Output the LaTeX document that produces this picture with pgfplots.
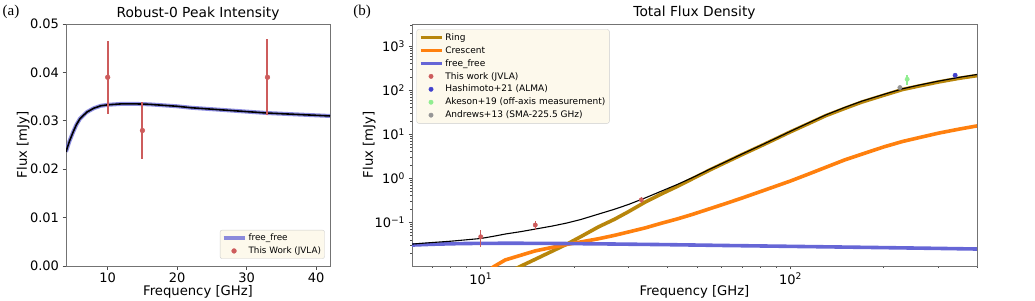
\documentclass[border=0pt]{standalone}
\usepackage{fontspec}
\setmainfont{DejaVu Sans}
\newfontfamily\panelfont{Liberation Serif}
\usepackage{pgfplots}
\pgfplotsset{compat=1.18}
\definecolor{ffblue}{RGB}{102,102,214}
\definecolor{ringc}{RGB}{184,134,11}
\definecolor{cresc}{RGB}{255,128,14}
\definecolor{ired}{RGB}{205,92,92}
\definecolor{hashi}{RGB}{65,65,205}
\definecolor{akes}{RGB}{144,238,144}
\definecolor{andr}{RGB}{150,150,150}
\definecolor{legbg}{RGB}{253,249,236}
\pgfplotsset{
  mpl/.style={
    scale only axis,
    tick align=outside,
    xtick pos=bottom, ytick pos=left,
    major tick length=3.5pt, minor tick length=2pt,
    every tick/.style={black!70, line width=0.7pt},
    axis line style={black!55, line width=0.8pt},
    tick label style={font=\fontsize{13}{13}\selectfont},
    label style={font=\fontsize{13.2}{13.2}\selectfont},
    title style={font=\fontsize{13.8}{14}\selectfont, at={(0.5,1)}, anchor=base, yshift=1pt},
    xlabel style={at={(0.5,0)}, anchor=base, yshift=-29pt},
    /pgf/number format/assume math mode=true,
    legend cell align=left,
  },
  lineleg/.style={legend image code/.code={\draw[##1] (0pt,0pt) -- (21pt,0pt);}},
  dotleg/.style={legend image code/.code={\draw[##1, only marks] plot coordinates {(10.5pt,0pt)};}},
}
\begin{document}
\begin{tikzpicture}
\useasboundingbox (0pt,0pt) rectangle (1035pt,300pt);
\node[font=\panelfont\fontsize{15}{15}\selectfont] at (11pt,288pt) {(a)};
\node[font=\panelfont\fontsize{15}{15}\selectfont] at (362pt,288pt) {(b)};
% ---------------- left panel
\begin{axis}[mpl,
  at={(66pt,34pt)}, anchor=south west,
  width=264pt, height=242pt,
  xmin=4, xmax=42, ymin=0, ymax=0.05,
  xtick={10,20,30,40},
  ytick={0,0.01,0.02,0.03,0.04,0.05},
  scaled y ticks=false,
  yticklabel style={/pgf/number format/fixed, /pgf/number format/fixed zerofill, /pgf/number format/precision=2},
  title={Robust-0 Peak Intensity},
  xlabel={Frequency [GHz]}, ylabel={Flux [mJy]},
  ylabel style={at={(axis description cs:-0.162,0.5)}, anchor=center},
  legend style={at={(0.98,0.03)}, anchor=south east, fill=legbg, draw=black!20, rounded corners=2pt,
    font=\fontsize{8.8}{10}\selectfont, inner sep=1.5pt, row sep=1pt},
]
\addplot[ffblue, opacity=0.75, line width=4pt, lineleg] coordinates {
(4,0.0236)(4.5,0.0258)(5,0.0276)(5.5,0.0292)(6,0.0304)(7,0.0318)(8,0.0326)(9,0.0331)(10,0.0333)(11,0.0334)(12,0.0335)(14,0.0335)(16,0.0334)(18,0.0332)(20,0.0330)(22,0.0327)(25,0.0324)(28,0.0321)(30,0.0319)(33,0.0316)(36,0.0314)(39,0.0312)(42,0.0310)};
\addlegendentry{free\_free}
\addplot[black, line width=1.6pt, forget plot] coordinates {
(4,0.0236)(4.5,0.0258)(5,0.0276)(5.5,0.0292)(6,0.0304)(7,0.0318)(8,0.0326)(9,0.0331)(10,0.0333)(11,0.0334)(12,0.0335)(14,0.0335)(16,0.0334)(18,0.0332)(20,0.0330)(22,0.0327)(25,0.0324)(28,0.0321)(30,0.0319)(33,0.0316)(36,0.0314)(39,0.0312)(42,0.0310)};
\addplot[ired, only marks, mark=*, mark size=2.4pt, dotleg,
  error bars/y dir=both, error bars/y explicit, error bars/error mark=none,
  error bars/error bar style={draw=ired, line width=2pt, solid}]
  coordinates {(10,0.039) +- (0,0.0075) (15,0.028) +- (0,0.0058) (33,0.039) +- (0,0.0079)};
\addlegendentry{This Work (JVLA)}
\end{axis}
% ---------------- right panel
\begin{axis}[mpl,
  at={(412pt,34pt)}, anchor=south west,
  width=565pt, height=242pt,
  xmode=log, ymode=log,
  xmin=6, xmax=400, ymin=0.0102, ymax=3200,
  xtick={10,100}, xticklabels={10\textsuperscript{1},10\textsuperscript{2}},
  minor xtick={7,8,9,20,30,40,50,60,70,80,90,200,300,400},
  ytick={0.1,1,10,100,1000},
  yticklabels={10\textsuperscript{−1},10\textsuperscript{0},10\textsuperscript{1},10\textsuperscript{2},10\textsuperscript{3}},
  minor ytick={0.02,0.03,0.04,0.05,0.06,0.07,0.08,0.09,0.2,0.3,0.4,0.5,0.6,0.7,0.8,0.9,2,3,4,5,6,7,8,9,20,30,40,50,60,70,80,90,200,300,400,500,600,700,800,900,2000,3000},
  title={Total Flux Density},
  xlabel={Frequency [GHz]}, ylabel={Flux [mJy]},
  ylabel style={at={(axis description cs:-0.0756,0.5)}, anchor=center},
  legend style={at={(0.008,0.978)}, anchor=north west, fill=legbg, draw=black!20, rounded corners=2pt,
    font=\fontsize{9}{10}\selectfont, inner sep=2pt, row sep=0.6pt},
]
\addplot[ringc, line width=3.6pt, lineleg] coordinates {
(12,0.0068)(13.5,0.0102)(15,0.0145)(17,0.0221)(19,0.0322)(21,0.047)(24,0.079)(27,0.117)(30,0.175)(34,0.29)(38,0.43)(43,0.65)(48,0.96)(55,1.56)(62,2.33)(70,3.5)(80,5.4)(90,8.0)(100,11.4)(115,17.8)(130,26.5)(150,39)(170,54)(200,77)(230,104)(260,125)(300,154)(350,187)(400,215)};
\addlegendentry{Ring}
\addplot[cresc, line width=3.6pt, lineleg] coordinates {
(10.5,0.0075)(11,0.0098)(12,0.014)(13.5,0.018)(15,0.0225)(17,0.027)(19,0.0316)(21,0.0358)(24,0.0424)(27,0.0506)(30,0.0605)(34,0.075)(38,0.094)(43,0.119)(48,0.150)(55,0.205)(62,0.27)(70,0.36)(80,0.50)(90,0.67)(100,0.87)(115,1.27)(130,1.78)(150,2.64)(170,3.54)(200,5.17)(230,6.87)(260,8.4)(300,10.6)(350,13.1)(400,15.5)};
\addlegendentry{Crescent}
\addplot[ffblue, line width=3.6pt, lineleg] coordinates {
(6,0.0305)(7,0.0318)(8,0.0326)(9,0.0331)(10,0.0333)(12,0.0335)(15,0.0334)(19,0.0330)(24,0.0325)(30,0.0319)(38,0.0313)(48,0.0306)(62,0.0298)(80,0.0291)(100,0.0285)(130,0.0278)(170,0.0271)(230,0.0263)(300,0.0256)(400,0.0248)};
\addlegendentry{free\_free}
\addplot[black, line width=1.1pt, forget plot] coordinates {
(6,0.0321)(7,0.0349)(8,0.0373)(9,0.0402)(10,0.0430)(11,0.0483)(12,0.0543)(13.5,0.0617)(15,0.0704)(17,0.0823)(19,0.0968)(21,0.1156)(24,0.154)(27,0.198)(30,0.255)(34,0.36)(38,0.50)(43,0.72)(48,1.02)(55,1.62)(62,2.40)(70,3.6)(80,5.55)(90,8.2)(100,11.7)(115,18.5)(130,27.5)(150,41)(170,56.5)(200,80.5)(230,108)(260,131)(300,161)(350,196)(400,228)};
\addplot[ired, only marks, mark=*, mark size=2.2pt, dotleg,
  error bars/y dir=both, error bars/y explicit, error bars/error mark=none,
  error bars/error bar style={draw=ired, line width=1.4pt, solid}]
  coordinates {(10,0.047) +- (0,0.02) (15,0.087) +- (0,0.02) (33,0.325) +- (0,0.05)};
\addlegendentry{This work (JVLA)}
\addplot[hashi, only marks, mark=*, mark size=2.2pt, dotleg] coordinates {(340,219)};
\addlegendentry{Hashimoto+21 (ALMA)}
\addplot[akes, only marks, mark=*, mark size=2.2pt, dotleg,
  error bars/y dir=both, error bars/y explicit, error bars/error mark=none,
  error bars/error bar style={draw=akes, line width=1.4pt, solid}]
  coordinates {(238,178) +- (0,45)};
\addlegendentry{Akeson+19 (off-axis measurement)}
\addplot[andr, only marks, mark=*, mark size=2.2pt, dotleg] coordinates {(225.5,115)};
\addlegendentry{Andrews+13 (SMA-225.5 GHz)}
\end{axis}
\end{tikzpicture}
\end{document}
